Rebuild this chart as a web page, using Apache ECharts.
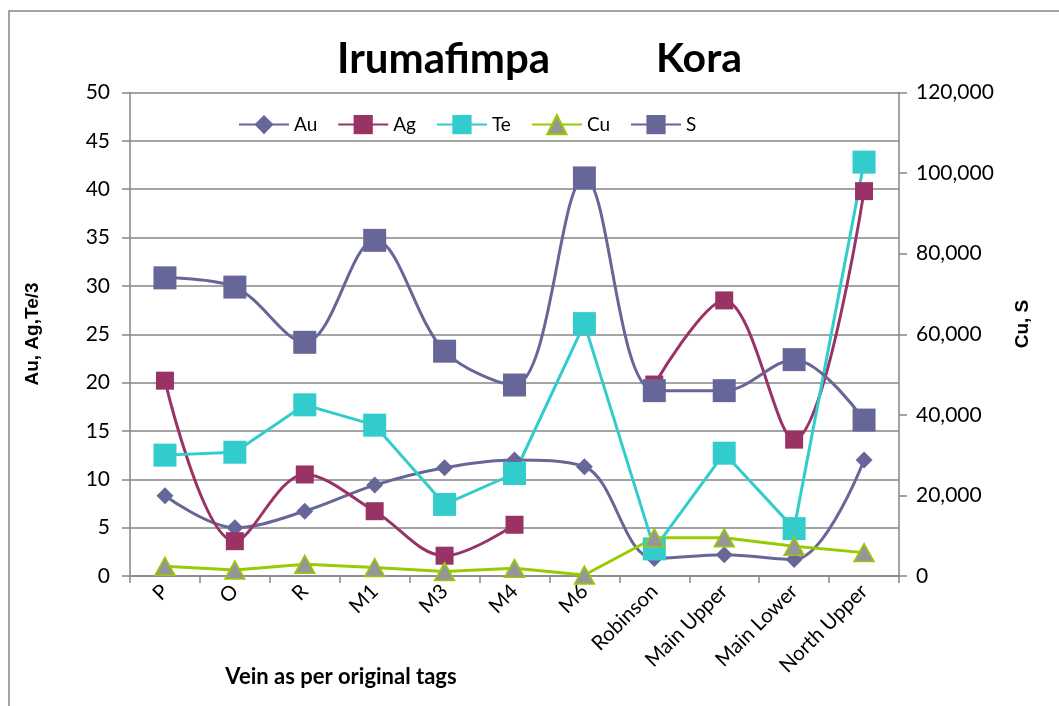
<!DOCTYPE html>
<html>
<head>
<meta charset="utf-8">
<script src="https://cdn.jsdelivr.net/npm/echarts@6/dist/echarts.min.js"></script>
<style>
  html, body { margin: 0; padding: 0; background: #fff; }
  #chart { width: 1059px; height: 706px; }
</style>
</head>
<body>
<div id="chart"></div>
<script>
// vein tags along the x axis
var veins = ['P', 'O', 'R', 'M1', 'M3', 'M4', 'M6', 'Robinson', 'Main Upper', 'Main Lower', 'North Upper']
// left axis (Au, Ag, Te/3)
var au = [8.3, 5.0, 6.7, 9.4, 11.2, 12.0, 11.3, 1.8, 2.2, 1.7, 12.0]
var ag = [20.2, 3.6, 10.5, 6.7, 2.1, 5.3, null, 19.8, 28.5, 14.1, 39.8] // no Ag at M6
var te = [12.5, 12.8, 17.7, 15.6, 7.4, 10.6, 26.1, 2.8, 12.7, 4.9, 42.8]
// right axis (Cu, S)
var cu = [2400, 1500, 2900, 2100, 1100, 1900, 250, 9500, 9500, 7400, 5800]
var s = [74000, 71700, 58000, 83300, 55800, 47400, 98800, 46000, 46000, 53700, 38700]

var font = 'Lato'
var axisGray = '#868686'

var chart = echarts.init(document.getElementById('chart'))

var option = {
  animation: false,
  title: [
    { text: 'Irumafimpa', left: 332, top: 33, textStyle: { fontFamily: font, fontSize: 42, fontWeight: 'bold', color: '#000' } },
    { text: 'Kora', left: 651, top: 33, textStyle: { fontFamily: font, fontSize: 41, fontWeight: 'bold', color: '#000' } }
  ],
  legend: {
    data: ['Au', 'Ag', 'Te', 'Cu', 'S'],
    left: 233,
    top: 109,
    itemWidth: 50,
    itemHeight: 24,
    itemGap: 20,
    textStyle: { fontFamily: font, fontSize: 19, color: '#000' }
  },
  grid: { left: 130, right: 160, top: 92.5, bottom: 130 },
  xAxis: {
    type: 'category',
    data: veins,
    boundaryGap: true,
    axisLine: { lineStyle: { color: axisGray, width: 1.5 } },
    axisTick: { show: true, length: 7, lineStyle: { color: axisGray, width: 1.5 } },
    axisLabel: { rotate: 45, interval: 0, margin: 12, fontFamily: font, fontSize: 20.5, color: '#000' }
  },
  yAxis: [
    {
      type: 'value',
      min: 0,
      max: 50,
      interval: 5,
      axisLine: { show: true, lineStyle: { color: axisGray, width: 1.5 } },
      axisTick: { show: true, length: 8, lineStyle: { color: axisGray, width: 1.5 } },
      axisLabel: { margin: 20, fontFamily: font, fontSize: 21, color: '#000' },
      splitLine: { lineStyle: { color: axisGray, width: 1.5 } }
    },
    {
      type: 'value',
      min: 0,
      max: 120000,
      interval: 20000,
      position: 'right',
      axisLine: { show: true, lineStyle: { color: axisGray, width: 1.5 } },
      axisTick: { show: true, length: 8, lineStyle: { color: axisGray, width: 1.5 } },
      axisLabel: {
        margin: 17,
        fontFamily: font,
        fontSize: 21,
        color: '#000',
        formatter: function (v) { return v.toLocaleString('en-US') }
      },
      splitLine: { show: false }
    }
  ],
  series: [
    {
      name: 'Au', type: 'line', yAxisIndex: 0, data: au, smooth: 0.35,
      symbol: 'diamond', symbolSize: 17,
      lineStyle: { color: '#666699', width: 3 },
      itemStyle: { color: '#666699' }
    },
    {
      name: 'Ag', type: 'line', yAxisIndex: 0, data: ag, smooth: 0.35, connectNulls: false,
      symbol: 'rect', symbolSize: 18,
      lineStyle: { color: '#993366', width: 3 },
      itemStyle: { color: '#993366' }
    },
    {
      name: 'Te', type: 'line', yAxisIndex: 0, data: te,
      symbol: 'rect', symbolSize: 23,
      lineStyle: { color: '#33CCCC', width: 3 },
      itemStyle: { color: '#33CCCC' }
    },
    {
      name: 'Cu', type: 'line', yAxisIndex: 1, data: cu,
      symbol: 'triangle', symbolSize: [20, 18],
      lineStyle: { color: '#99CC00', width: 3 },
      itemStyle: { color: '#969696', borderColor: '#99CC00', borderWidth: 1.5 }
    },
    {
      name: 'S', type: 'line', yAxisIndex: 1, data: s, smooth: 0.35,
      symbol: 'rect', symbolSize: 23,
      lineStyle: { color: '#666699', width: 3 },
      itemStyle: { color: '#666699' }
    }
  ],
  graphic: [
    {
      type: 'rect', silent: true, z: -1,
      shape: { x: 9, y: 11, width: 1080, height: 720 },
      style: { fill: null, stroke: axisGray, lineWidth: 1.5 }
    },
    {
      type: 'text', x: 33, y: 334, rotation: Math.PI / 2,
      style: { text: 'Au, Ag,Te/3', fontFamily: 'Liberation Sans', fontSize: 19, fontWeight: 'bold', fill: '#000', align: 'center', verticalAlign: 'middle' }
    },
    {
      type: 'text', x: 1023, y: 324, rotation: Math.PI / 2,
      style: { text: 'Cu, S', fontFamily: 'Liberation Sans', fontSize: 19, fontWeight: 'bold', fill: '#000', align: 'center', verticalAlign: 'middle' }
    },
    {
      type: 'text', x: 341, y: 677,
      style: { text: 'Vein as per original tags', fontFamily: font, fontSize: 22, fontWeight: 'bold', fill: '#000', align: 'center', verticalAlign: 'middle' }
    }
  ]
}

chart.setOption(option)
</script>
</body>
</html>
